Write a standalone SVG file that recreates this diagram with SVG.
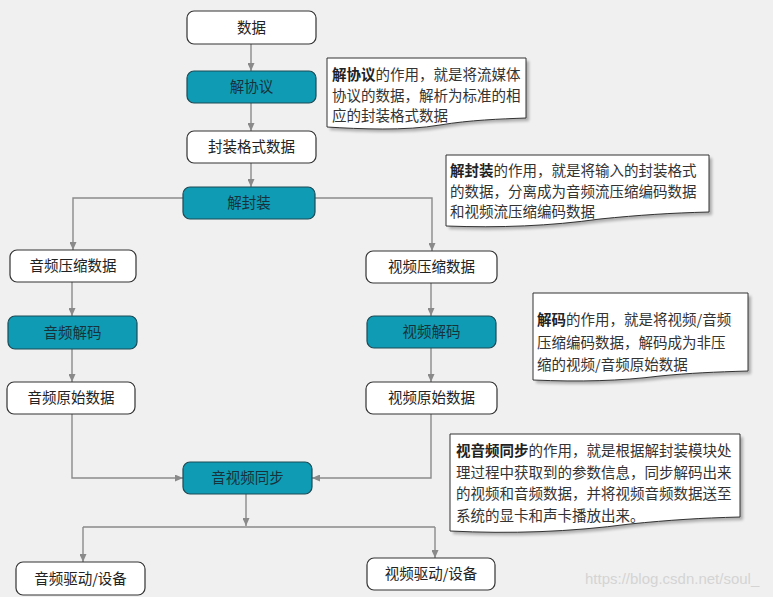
<svg xmlns="http://www.w3.org/2000/svg" width="773" height="597" viewBox="0 0 773 597">
<defs>
<style>
.bg{fill:#f0f0f0}
.nw{fill:#ffffff;stroke:#333333;stroke-width:1.2}
.nt{fill:#0f9bb4;stroke:#1d4a55;stroke-width:1.2}
.lbl{font-family:"Noto Sans CJK SC","Liberation Sans",sans-serif;font-size:14.5px;fill:#222;text-anchor:middle}
.lblt{font-family:"Noto Sans CJK SC","Liberation Sans",sans-serif;font-size:14.5px;fill:#17323a;text-anchor:middle}
.conn{fill:none;stroke:#8a8a8a;stroke-width:1.4}
.note{fill:#ffffff;stroke:#333333;stroke-width:1}
.shadow{fill:#000;opacity:0.28}
.nt2{font-family:"Noto Sans CJK SC","Liberation Sans",sans-serif;font-size:14.5px;fill:#333}
.b{font-weight:bold;fill:#222}
.wm{font-family:"Liberation Sans","DejaVu Sans",sans-serif;font-size:15px;fill:#d4d4d4}
</style>
<marker id="ah" viewBox="0 0 8 7" refX="8" refY="3.5" markerWidth="8" markerHeight="7" markerUnits="userSpaceOnUse" orient="auto">
<path d="M0,0 L8,3.5 L0,7 z" fill="#8a8a8a"/>
</marker>
<filter id="blur" x="-10%" y="-10%" width="120%" height="130%"><feGaussianBlur stdDeviation="1.5"/></filter>
</defs>
<rect class="bg" x="0" y="0" width="773" height="597"/>

<g id="connectors">
<path class="conn" d="M251,44 V71" marker-end="url(#ah)"/>
<path class="conn" d="M251,103 V131" marker-end="url(#ah)"/>
<path class="conn" d="M251,163 V187" marker-end="url(#ah)"/>
<path class="conn" d="M183,198 H73 V250" marker-end="url(#ah)"/>
<path class="conn" d="M315,198 H432 V251" marker-end="url(#ah)"/>
<path class="conn" d="M72,282 V316" marker-end="url(#ah)"/>
<path class="conn" d="M72,349 V382" marker-end="url(#ah)"/>
<path class="conn" d="M431,283 V316" marker-end="url(#ah)"/>
<path class="conn" d="M431,348 V382" marker-end="url(#ah)"/>
<path class="conn" d="M72,414 V478 H183" marker-end="url(#ah)"/>
<path class="conn" d="M431,414 V478 H312" marker-end="url(#ah)"/>
<path class="conn" d="M246,494 V526" marker-end="url(#ah)"/>
<path class="conn" d="M83,527 H435"/>
<path class="conn" d="M83,527 V562" marker-end="url(#ah)"/>
<path class="conn" d="M435,527 V558" marker-end="url(#ah)"/>
</g>

<g id="n-data"><rect class="nw" x="187" y="11" width="129" height="33" rx="7"/><text class="lbl" x="251.5" y="32.5">数据</text></g>
<g id="n-jiexieyi"><rect class="nt" x="187" y="71" width="129" height="32" rx="7"/><text class="lblt" x="251.5" y="92">解协议</text></g>
<g id="n-fengzhuang"><rect class="nw" x="187" y="131" width="129" height="32" rx="7"/><text class="lbl" x="251.5" y="152">封装格式数据</text></g>
<g id="n-jiefengzhuang"><rect class="nt" x="183" y="187" width="132" height="32" rx="7"/><text class="lblt" x="249" y="208">解封装</text></g>
<g id="n-audio-comp"><rect class="nw" x="10" y="250" width="126" height="32" rx="7"/><text class="lbl" x="73" y="271">音频压缩数据</text></g>
<g id="n-video-comp"><rect class="nw" x="366" y="251" width="131" height="32" rx="7"/><text class="lbl" x="431.5" y="272">视频压缩数据</text></g>
<g id="n-audio-dec"><rect class="nt" x="8" y="316" width="129" height="33" rx="7"/><text class="lblt" x="72.5" y="337.5">音频解码</text></g>
<g id="n-video-dec"><rect class="nt" x="367" y="316" width="129" height="32" rx="7"/><text class="lblt" x="431.5" y="337">视频解码</text></g>
<g id="n-audio-raw"><rect class="nw" x="7" y="382" width="128" height="32" rx="7"/><text class="lbl" x="71" y="403">音频原始数据</text></g>
<g id="n-video-raw"><rect class="nw" x="366" y="382" width="131" height="32" rx="7"/><text class="lbl" x="431.5" y="403">视频原始数据</text></g>
<g id="n-sync"><rect class="nt" x="183" y="462" width="129" height="32" rx="7"/><text class="lblt" x="247.5" y="483">音视频同步</text></g>
<g id="n-audio-dev"><rect class="nw" x="16" y="562" width="129" height="33" rx="7"/><text class="lbl" x="80.5" y="583.5">音频驱动/设备</text></g>
<g id="n-video-dev"><rect class="nw" x="367" y="558" width="128" height="32" rx="7"/><text class="lbl" x="431" y="579">视频驱动/设备</text></g>

<g id="note1">
<path class="shadow" filter="url(#blur)" transform="translate(3,3)" d="M327,58 H526 V118 C500,119 470,120 440,125 C405,131 360,129 327,127 Z"/>
<path class="note" d="M327,58 H526 V118 C500,119 470,120 440,125 C405,131 360,129 327,127 Z"/>
<text class="nt2" x="332" y="80"><tspan class="b">解协议</tspan>的作用，就是将流媒体</text>
<text class="nt2" x="332" y="101">协议的数据，解析为标准的相</text>
<text class="nt2" x="332" y="121">应的封装格式数据</text>
</g>

<g id="note2">
<path class="shadow" filter="url(#blur)" transform="translate(3,3)" d="M446,155 H709 V212 C670,213 640,215 600,219 C550,226 500,228 446,226 Z"/>
<path class="note" d="M446,155 H709 V212 C670,213 640,215 600,219 C550,226 500,228 446,226 Z"/>
<text class="nt2" x="450" y="176"><tspan class="b">解封装</tspan>的作用，就是将输入的封装格式</text>
<text class="nt2" x="450" y="197">的数据，分离成为音频流压缩编码数据</text>
<text class="nt2" x="450" y="217">和视频流压缩编码数据</text>
</g>

<g id="note3">
<path class="shadow" filter="url(#blur)" transform="translate(3,3)" d="M533,293 H748 V371 C715,372 690,373 660,376 C620,381 580,382 533,380 Z"/>
<path class="note" d="M533,293 H748 V371 C715,372 690,373 660,376 C620,381 580,382 533,380 Z"/>
<text class="nt2" x="537" y="325"><tspan class="b">解码</tspan>的作用，就是将视频/音频</text>
<text class="nt2" x="537" y="348">压缩编码数据，解码成为非压</text>
<text class="nt2" x="537" y="370">缩的视频/音频原始数据</text>
</g>

<g id="note4">
<path class="shadow" filter="url(#blur)" transform="translate(3,3)" d="M450,434 H740 V517 C700,518 670,520 630,524 C570,532 510,534 450,531 Z"/>
<path class="note" d="M450,434 H740 V517 C700,518 670,520 630,524 C570,532 510,534 450,531 Z"/>
<text class="nt2" x="456" y="456"><tspan class="b">视音频同步</tspan>的作用，就是根据解封装模块处</text>
<text class="nt2" x="456" y="478">理过程中获取到的参数信息，同步解码出来</text>
<text class="nt2" x="456" y="499">的视频和音频数据，并将视频音频数据送至</text>
<text class="nt2" x="456" y="521">系统的显卡和声卡播放出来。</text>
</g>

<text class="wm" x="585" y="584">https://blog.csdn.net/soul_</text>
</svg>
